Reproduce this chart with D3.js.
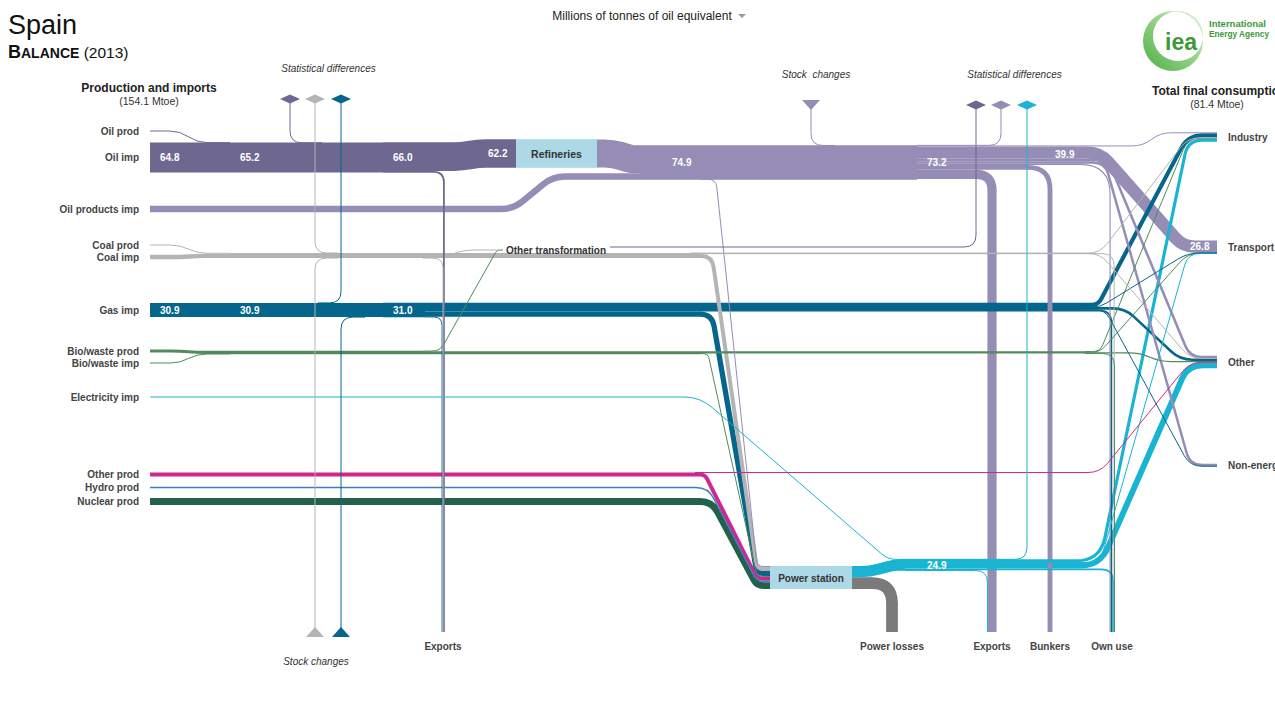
<!DOCTYPE html>
<html>
<head>
<meta charset="utf-8">
<script src="https://cdn.jsdelivr.net/npm/d3@7"></script>
<style>
  body { margin: 0; background: #fff; }
  svg { display: block; font-family: "Liberation Sans", Arial, sans-serif; }
</style>
</head>
<body>
<svg id="chart" width="1275" height="713"></svg>
<script>
(function () {
  // ---- data: Spain energy balance 2013, Mtoe ----
  const supplyLabels = ['Oil prod', 'Oil imp', 'Oil products imp', 'Coal prod', 'Coal imp', 'Gas imp',
    'Bio/waste prod', 'Bio/waste imp', 'Electricity imp', 'Other prod', 'Hydro prod', 'Nuclear prod'];
  const consumerLabels = ['Industry', 'Transport', 'Other', 'Non-energy'];
  const sinkLabels = ['Exports', 'Power losses', 'Exports', 'Bunkers', 'Own use'];

  const crude = [['prod', 0.4], ['imp', 64.8], ['b', 65.2], ['c', 66.0], ['ref', 62.2], ['sd', 0.8], ['exp', 3.8]];
  const oilProducts = [['ref', 61.0], ['imp', 13.9], ['trunk', 74.9], ['sc', 0.1], ['ps', 1.8], ['sd', 0.4],
    ['ind', 2.1], ['tra', 26.8], ['oth', 5.6], ['non', 5.4], ['own', 2.4], ['bunk', 10.5], ['exp', 20.0]];
  const coal = [['prod', 1.7], ['imp', 9.6], ['trunk', 11.4], ['sd', 0.3], ['sc', 0.2], ['exp', 0.1], ['ot', 0.4],
    ['ps', 8.7], ['ind', 1.1], ['oth', 0.1], ['own', 1.0]];
  const gas = [['a', 30.9], ['b', 30.9], ['c', 31.0], ['sd', 0.2], ['sc', 0.1], ['exp', 0.8], ['ps', 11.5],
    ['rest', 18.7], ['ind', 9.0], ['tra', 0.2], ['oth', 5.5], ['non', 0.5], ['own', 3.5]];
  const bio = [['prod', 6.6], ['imp', 0.6], ['trunk', 7.2], ['ot', 1.0], ['mid', 6.2], ['ps', 1.2], ['rest', 5.0],
    ['ind', 1.3], ['tra', 0.9], ['oth', 2.6], ['own', 0.2]];
  const electricity = [['imp', 0.7], ['ps', 24.2], ['sd', 0.2], ['ind', 6.9], ['tra', 0.3], ['oth', 12.8],
    ['own', 3.7], ['exp', 1.0]];
  const otherRen = [['trunk', 8.9], ['ps', 8.6], ['oth', 0.3]];
  const hydro = [['ps', 3.2]];
  const nuclear = [['ps', 14.8]];
  const losses = [['ps', 25.6]];
  const otherTransf = [['sd', 1.4]];
  const boxes = [['Refineries', 62.2], ['Power station', 49.8]];

  const colors = {
    crude: '#6e6790', oilp: '#958db5', coal: '#b4b4b4', gas: '#05668d', bio: '#4f8b5b',
    elec: '#19b4d2', other: '#d0278f', hydro: '#3b80c4', nuclear: '#24614b', loss: '#7a7a7a', otr: '#6e6790'
  };

  // ---- layout grid (named columns / rows) ----
  const cols = {
    L0: 150, Lk: 180, Lm: 197, s1: 230, sdA: 290, sdB: 315, c317: 318, c320: 322, c340: 338, sdC: 341,
    c365: 365, s2: 383, c423: 423, c425: 425, c440: 440, ex1: 443, c455: 455, ot0: 462, c466: 467,
    c478: 478, c497: 497, ot1: 503, oi1: 513, ref0: 516, oi2: 553, ref1: 597, ot2: 610, c612: 612,
    c632: 632, m1: 640, c662: 662, c690: 690, c695: 695, c700: 700, c705: 705, c708: 708, c712: 712,
    c716: 716, psIn: 757, ps0: 770, sc: 811, c835: 835, ps1: 852, c870: 870, c888: 888, loss: 892,
    c893: 893, c905: 905, s3: 917, sd4: 976, exB: 992, sd5: 1001, sd6: 1027, c1045: 1045, bk: 1050,
    c1085: 1085, c1098: 1098, sp: 1100, c1105: 1105, c1108: 1108, own: 1112, c1125: 1125, c1140: 1140,
    t1: 1143, c1160: 1160, c1180: 1180, c1183: 1183, c1188: 1188, bend: 1190, R: 1217
  };
  const rows = {
    diamL: 99, diamR: 105, triT: 105, oilProd: 131, ind: 137, ref: 153.5, oilImp: 157.5, oilP: 162.5,
    oilPImp: 209, coalProd: 245, tra: 247, ot2: 247, ot: 250, coal: 255.5, coalImp: 257, gas: 310,
    bioProd: 351, bio: 352.5, oth: 362, bioImp: 363, elImp: 397, nonE: 465, otherProd: 474.5,
    hydro: 487.5, nuc: 501.5, elec: 565, ps: 577.5, bot: 632
  };
  const x = d3.scaleOrdinal().domain(Object.keys(cols)).range(Object.values(cols)).unknown(NaN);
  const y = d3.scaleOrdinal().domain(Object.keys(rows)).range(Object.values(rows)).unknown(NaN);
  const thick = d3.scaleLinear().domain([0, 100]).range([0, 46]);

  // waypoint: "col row dy dx" (offsets in Mtoe)
  const routes = {
    crude_prod: 'L0 oilProd; Lk oilProd; Lm oilImp -32.4; s1 oilImp -32.4',
    crude_imp: 'L0 oilImp; s1 oilImp',
    crude_b: 's1 oilImp; s2 oilImp',
    crude_c: 's2 oilImp; c423 oilImp',
    crude_ref: 'c423 oilImp -1.9; ot0 oilImp -1.9; c478 ref; ref0 ref',
    crude_sd: 'sdA diamL; sdA oilImp -32; c320 oilImp -32',
    crude_exp: 'c423 oilImp 31.1; ex1 oilImp 31.1 2; ex1 bot 0 2',
    oilp_ref: 'ref1 ref; c612 ref; c632 oilP -6.95; m1 oilP -6.95',
    oilp_imp: 'L0 oilPImp; oi1 oilPImp; oi2 oilP 30.5; m1 oilP 30.5',
    oilp_trunk: 'm1 oilP; s3 oilP',
    oilp_sc: 'sc triT; sc oilP -37; c835 oilP -37',
    oilp_ps: 'c700 oilP 36.5; c716 oilP 36.5; psIn ps -24; ps0 ps -24',
    oilp_sd: 's3 oilP -37.25; sd5 oilP -37.25; sd5 diamR',
    oilp_ind: 's3 oilP -36; t1 oilP -36; c1160 ind -9.15; R ind -9.15',
    oilp_tra: 's3 oilP -21.55; sp oilP -21.55; c1183 tra -0.7; R tra -0.7',
    oilp_oth: 's3 oilP -5.35; c1108 oilP -5.35; bend oth -10.65; R oth -10.65',
    oilp_non: 's3 oilP 0.15; c1105 oilP 0.15; bend nonE -0.25; R nonE -0.25',
    oilp_own: 's3 oilP 4.05; own oilP 4.05 -4.2; own bot 0 -4.2',
    oilp_bunk: 's3 oilP 10.5; bk oilP 10.5; bk bot',
    oilp_exp: 's3 oilP 25.75; exB oilP 25.75; exB bot',
    coal_prod: 'L0 coalProd; Lk coalProd; Lm coal -4.85; s1 coal -4.85',
    coal_imp: 'L0 coalImp; Lk coalImp; Lm coal 0.8; s1 coal 0.8',
    coal_trunk: 's1 coal; c690 coal',
    coal_sd: 'sdB diamL; sdB coal -5.5; c340 coal -5.5',
    coal_sc: 'sdB bot; sdB coal 5.6; c340 coal 5.6',
    coal_exp: 'c423 coal 5.6; ex1 coal 5.6; ex1 bot',
    coal_ot: 'c455 coal -5.5; c466 ot; ot1 ot',
    coal_ps: 'c690 coal 0.85; c712 coal 0.85; psIn ps -18.75; ps0 ps -18.75',
    coal_ind: 'c690 coal -5.15; sp coal -5.15; c1188 ind 1.45; R ind 1.45',
    coal_oth: 'c690 coal -4.55; sp coal -4.55; bend oth -7.8; R oth -7.8',
    coal_own: 'c690 coal -4; own coal -4 4.7; own bot 0 4.7',
    gas_a: 'L0 gas; s1 gas',
    gas_b: 's1 gas; s2 gas',
    gas_c: 's2 gas; c425 gas',
    gas_sd: 'c317 gas -15.4; sdC gas -15.4; sdC diamL',
    gas_sc: 'sdC bot; sdC gas 15.45; c365 gas 15.45',
    gas_rest: 'c425 gas -6.15; c1085 gas -6.15',
    gas_ps: 'c425 gas 8.95; c712 gas 8.95; psIn ps -8.65; ps0 ps -8.65',
    gas_exp: 'c425 gas 15.1; ex1 gas 15.1 -2; ex1 bot 0 -2',
    gas_ind: 'c1085 gas -11; c1098 gas -11; c1188 ind -3.6; R ind -3.6',
    gas_tra: 'c1085 gas -6.4; sp gas -6.4; c1188 tra 12.8; R tra 12.8',
    gas_oth: 'c1085 gas -3.55; c1125 gas -3.55; c1180 oth -5; R oth -5',
    gas_non: 'c1085 gas -0.55; c1105 gas -0.55; bend nonE 2.7; R nonE 2.7',
    gas_own: 'c1085 gas 1.45; own gas 1.45 -1.25; own bot 0 -1.25',
    bio_prod: 'L0 bioProd; Lk bioProd; Lm bio -0.3; s1 bio -0.3',
    bio_imp: 'L0 bioImp; Lk bioImp; Lm bio 3.3; s1 bio 3.3',
    bio_trunk: 's1 bio; c423 bio',
    bio_ot: 'c423 bio -3.1; c440 bio -3.1; c497 ot; ot1 ot',
    bio_mid: 'c423 bio 0.5; c700 bio 0.5',
    bio_ps: 'c700 bio 2.5; c708 bio 2.5; psIn ps -2.3; ps0 ps -2.3',
    bio_rest: 'c700 bio -0.1; c1085 bio -0.1',
    bio_ind: 'c1085 bio -1.95; sp bio -1.95; c1188 ind 2.65; R ind 2.65',
    bio_tra: 'c1085 bio -0.85; sp bio -0.85; c1188 tra 13.35; R tra 13.35',
    bio_oth: 'c1085 bio 0.9; c1140 bio 0.9; c1160 oth -0.95; R oth -0.95',
    bio_own: 'c1085 bio 2.3; own bio 2.3 5.3; own bot 0 5.3',
    elec_imp: 'L0 elImp; c700 elImp; c888 elec -12.1; c905 elec -12.1',
    elec_ps: 'ps1 ps -12.8; c870 ps -12.8; c893 elec 0.35; c905 elec 0.35',
    elec_sd: 'c905 elec -12.35; sd6 elec -12.35; sd6 diamR',
    elec_ind: 'c905 elec -8.8; sp elec -8.8; c1188 ind 6.75; R ind 6.75',
    elec_tra: 'c905 elec -5.2; sp elec -5.2; c1188 tra 13.95; R tra 13.95',
    elec_oth: 'c905 elec 1.35; sp elec 1.35; c1188 oth 7.05; R oth 7.05',
    elec_own: 'c905 elec 9.6; own elec 9.6 2.35; own bot 0 2.35',
    elec_exp: 'c905 elec 11.95; exB elec 11.95 -10; exB bot 0 -10',
    other_trunk: 'L0 otherProd; c695 otherProd',
    other_ps: 'c695 otherProd 0.15; c705 otherProd 0.15; psIn ps 2.6; ps0 ps 2.6',
    other_oth: 'c695 otherProd -4.3; sp otherProd -4.3; bend oth 0.5; R oth 0.5',
    hydro_ps: 'L0 hydro; c708 hydro; psIn ps 8.5; ps0 ps 8.5',
    nuclear_ps: 'L0 nuc; c712 nuc; psIn ps 17.5; ps0 ps 17.5',
    loss_ps: 'ps1 ps 12.1; loss ps 12.1; loss bot',
    otr_sd: 'ot2 ot2; sd4 ot2; sd4 diamR'
  };
  const radius = { oilp_own: 30, oilp_bunk: 22, oilp_exp: 16, loss_ps: 20, gas_ind: 24, elec_ind: 24,
    elec_oth: 20, bio_ot: 8, coal_ot: 6, elec_ps: 14, elec_imp: 16 };

  const barLabels = [
    [['crude_imp'], 'L0', 'oilImp', 0], [['crude_b'], 's1', 'oilImp', 0], [['crude_c'], 's2', 'oilImp', 0],
    [['crude_ref'], 'c478', 'ref', 0], [['oilp_trunk'], 'c662', 'oilP', 0],
    [['oilp_sd', 'oilp_ind', 'oilp_tra', 'oilp_oth', 'oilp_non', 'oilp_own', 'oilp_bunk', 'oilp_exp'], 's3', 'oilP', 0],
    [['oilp_ind', 'oilp_tra', 'oilp_oth', 'oilp_non'], 'c1045', 'oilP', -18],
    [['gas_a'], 'L0', 'gas', 0], [['gas_b'], 's1', 'gas', 0], [['gas_c'], 's2', 'gas', 0],
    [['elec_sd', 'elec_ind', 'elec_tra', 'elec_oth', 'elec_own', 'elec_exp'], 's3', 'elec', 0],
    [['oilp_tra'], 'c1180', 'tra', -0.7]
  ];

  const supplyRows = ['oilProd', 'oilImp', 'oilPImp', 'coalProd', 'coalImp', 'gas', 'bioProd', 'bioImp',
    'elImp', 'otherProd', 'hydro', 'nuc'];
  const consumerRows = ['ind', 'tra', 'oth', 'nonE'];
  const sinkCols = ['ex1', 'loss', 'exB', 'bk', 'own'];
  const boxSpan = [['ref0', 'ref1', 'ref'], ['ps0', 'ps1', 'ps']];
  const markers = [
    ['diamond', 'sdA', 'diamL', 'crude'], ['diamond', 'sdB', 'diamL', 'coal'], ['diamond', 'sdC', 'diamL', 'gas'],
    ['diamond', 'sd4', 'diamR', 'crude'], ['diamond', 'sd5', 'diamR', 'oilp'], ['diamond', 'sd6', 'diamR', 'elec'],
    ['down', 'sc', 'triT', 'oilp'], ['up', 'sdB', 'bot', 'coal'], ['up', 'sdC', 'bot', 'gas']
  ];

  // ---- build flows ----
  const carriers = { crude, oilp: oilProducts, coal, gas, bio, elec: electricity, other: otherRen,
    hydro, nuclear, loss: losses, otr: otherTransf };
  const flows = [];
  Object.entries(carriers).forEach(([c, list]) =>
    list.forEach(([name, v]) => flows.push({ id: c + '_' + name, carrier: c, value: v })));
  const valueOf = new Map(flows.map(f => [f.id, f.value]));

  function point(s) {
    const [c, r, dy, dx] = s.trim().split(/\s+/);
    return [x(c) + thick(+(dx || 0)), y(r) + thick(+(dy || 0))];
  }

  function roundPath(pts, r) {
    const p = d3.path();
    p.moveTo(pts[0][0], pts[0][1]);
    for (let i = 1; i < pts.length - 1; i++) {
      const a = pts[i - 1], b = pts[i], c = pts[i + 1];
      const l1 = Math.hypot(b[0] - a[0], b[1] - a[1]);
      const l2 = Math.hypot(c[0] - b[0], c[1] - b[1]);
      if (!l1 || !l2) { p.lineTo(b[0], b[1]); continue; }
      const rr = Math.min(r, l1 / 2, l2 / 2);
      p.lineTo(b[0] - (b[0] - a[0]) / l1 * rr, b[1] - (b[1] - a[1]) / l1 * rr);
      p.quadraticCurveTo(b[0], b[1], b[0] + (c[0] - b[0]) / l2 * rr, b[1] + (c[1] - b[1]) / l2 * rr);
    }
    const z = pts[pts.length - 1];
    p.lineTo(z[0], z[1]);
    return p.toString();
  }

  const svg = d3.select('#chart');

  // Flows, thick first so thin lines sit on top
  const drawn = flows.filter(f => routes[f.id]).sort((a, b) => b.value - a.value);
  svg.append('g')
    .attr('class', 'flows')
    .selectAll('path')
    .data(drawn)
    .join('path')
    .attr('d', f => roundPath(routes[f.id].split(';').map(point), radius[f.id] || 12))
    .attr('fill', 'none')
    .attr('stroke', f => colors[f.carrier])
    .attr('stroke-width', f => Math.max(1, thick(f.value)))
    .attr('stroke-linecap', 'butt')
    .attr('stroke-linejoin', 'round');

  // Transformation boxes
  const box = svg.append('g').selectAll('g').data(boxes).join('g');
  box.append('rect')
    .attr('x', (d, i) => x(boxSpan[i][0]))
    .attr('width', (d, i) => x(boxSpan[i][1]) - x(boxSpan[i][0]))
    .attr('y', (d, i) => y(boxSpan[i][2]) - thick(d[1]) / 2)
    .attr('height', d => thick(d[1]))
    .attr('fill', '#add8e6');
  box.append('text')
    .attr('x', (d, i) => (x(boxSpan[i][0]) + x(boxSpan[i][1])) / 2)
    .attr('y', (d, i) => y(boxSpan[i][2]) + 4)
    .attr('text-anchor', 'middle')
    .attr('font-size', (d, i) => i ? 10 : 10.5)
    .attr('font-weight', 'bold')
    .attr('fill', '#333')
    .text(d => d[0]);

  // Markers (statistical differences / stock changes)
  const shape = {
    diamond: 'M-10,0L0,-4.5L10,0L0,4.5Z',
    down: 'M-9,-5L9,-5L0,5Z',
    up: 'M-9,5L9,5L0,-5Z'
  };
  svg.append('g').selectAll('path').data(markers).join('path')
    .attr('d', d => shape[d[0]])
    .attr('transform', d => `translate(${x(d[1])},${y(d[2])})`)
    .attr('fill', d => colors[d[3]]);

  // Value labels on bars
  svg.append('g').selectAll('text').data(barLabels).join('text')
    .attr('x', d => x(d[1]) + 10)
    .attr('y', d => y(d[2]) + thick(d[3]) + 3.5)
    .attr('font-size', 10)
    .attr('font-weight', 'bold')
    .attr('fill', '#fff')
    .text(d => d3.sum(d[0], id => valueOf.get(id)).toFixed(1));

  // Supply labels
  svg.append('g').selectAll('text').data(supplyLabels).join('text')
    .attr('x', x('L0') - 11)
    .attr('y', (d, i) => y(supplyRows[i]) + 3.5)
    .attr('text-anchor', 'end')
    .attr('font-size', 10)
    .attr('font-weight', 'bold')
    .attr('fill', '#444')
    .text(d => d);

  // Final consumption labels
  svg.append('g').selectAll('text').data(consumerLabels).join('text')
    .attr('x', x('R') + 11)
    .attr('y', (d, i) => y(consumerRows[i]) + 3.5)
    .attr('font-size', 10)
    .attr('font-weight', 'bold')
    .attr('fill', '#444')
    .text(d => d);

  // Sink labels
  svg.append('g').selectAll('text').data(sinkLabels).join('text')
    .attr('x', (d, i) => x(sinkCols[i]))
    .attr('y', y('bot') + 18)
    .attr('text-anchor', 'middle')
    .attr('font-size', 10)
    .attr('font-weight', 'bold')
    .attr('fill', '#444')
    .text(d => d);

  // Other transformation
  svg.append('text')
    .attr('x', x('ot1') + 3).attr('y', y('ot') + 4)
    .attr('font-size', 10).attr('font-weight', 'bold').attr('fill', '#333')
    .text('Other transformation');

  // Italic notes
  const notes = [
    ['Statistical differences', (x('sdA') + x('sdC')) / 2 + 13, 72],
    ['Stock\u00a0\u00a0changes', x('sc') + 5, 78],
    ['Statistical differences', (x('sd4') + x('sd6')) / 2 + 13, 78],
    ['Stock changes', x('sdB') + 1, y('bot') + 33]
  ];
  svg.append('g').selectAll('text').data(notes).join('text')
    .attr('x', d => d[1]).attr('y', d => d[2])
    .attr('text-anchor', 'middle')
    .attr('font-size', 10)
    .attr('font-style', 'italic')
    .attr('fill', '#333')
    .text(d => d[0]);

  // Headers
  const supplyTotal = 154.1, tfcTotal = 81.4;
  svg.append('text').attr('x', 149).attr('y', 92).attr('text-anchor', 'middle')
    .attr('font-size', 12).attr('font-weight', 'bold').attr('fill', '#222').text('Production and imports');
  svg.append('text').attr('x', 149).attr('y', 105).attr('text-anchor', 'middle')
    .attr('font-size', 10.5).attr('fill', '#333').text(`(${supplyTotal.toFixed(1)} Mtoe)`);
  svg.append('text').attr('x', 1152).attr('y', 95)
    .attr('font-size', 12).attr('font-weight', 'bold').attr('fill', '#222').text('Total final consumption');
  svg.append('text').attr('x', 1217).attr('y', 108).attr('text-anchor', 'middle')
    .attr('font-size', 10.5).attr('fill', '#333').text(`(${tfcTotal.toFixed(1)} Mtoe)`);

  // Title
  svg.append('text').attr('x', 8).attr('y', 34).attr('font-size', 27).attr('fill', '#111').text('Spain');
  const sub = svg.append('text').attr('x', 8).attr('y', 58).attr('fill', '#111');
  sub.append('tspan').attr('font-size', 18).attr('font-weight', 'bold').text('B');
  sub.append('tspan').attr('font-size', 14).attr('font-weight', 'bold').text('ALANCE');
  sub.append('tspan').attr('font-size', 15.5).text(' (2013)');

  // Unit selector
  svg.append('text').attr('x', 642).attr('y', 20).attr('text-anchor', 'middle')
    .attr('font-size', 12).attr('fill', '#222').text('Millions of tonnes of oil equivalent');
  svg.append('path').attr('d', 'M738,14L746,14L742,18Z').attr('fill', '#999');

  // IEA logo
  const defs = svg.append('defs');
  const grad = defs.append('linearGradient').attr('id', 'ieaGrad')
    .attr('x1', '0%').attr('y1', '100%').attr('x2', '100%').attr('y2', '0%');
  grad.append('stop').attr('offset', '0%').attr('stop-color', '#4fae45');
  grad.append('stop').attr('offset', '60%').attr('stop-color', '#9fd68f');
  grad.append('stop').attr('offset', '100%').attr('stop-color', '#e8f5e2');
  const logo = svg.append('g').attr('transform', 'translate(1173,41)');
  logo.append('path')
    .attr('d', 'M30,0A30,30 0 1,1 -30,0A30,30 0 1,1 30,0Z M30,-5A25,25 0 1,0 -20,-5A25,25 0 1,0 30,-5Z')
    .attr('fill-rule', 'evenodd')
    .attr('fill', 'url(#ieaGrad)');
  logo.append('text').attr('x', 8).attr('y', 9).attr('text-anchor', 'middle')
    .attr('font-size', 23).attr('font-weight', 'bold').attr('fill', '#3c9a35').text('iea');
  svg.append('text').attr('x', 1209).attr('y', 27).attr('font-size', 9.5).attr('font-weight', 'bold')
    .attr('fill', '#3c9a35').text('International');
  svg.append('text').attr('x', 1209).attr('y', 37).attr('font-size', 9.5).attr('font-weight', 'bold')
    .attr('textLength', 60).attr('lengthAdjust', 'spacingAndGlyphs')
    .attr('fill', '#3c9a35').text('Energy Agency');
})();
</script>
</body>
</html>
